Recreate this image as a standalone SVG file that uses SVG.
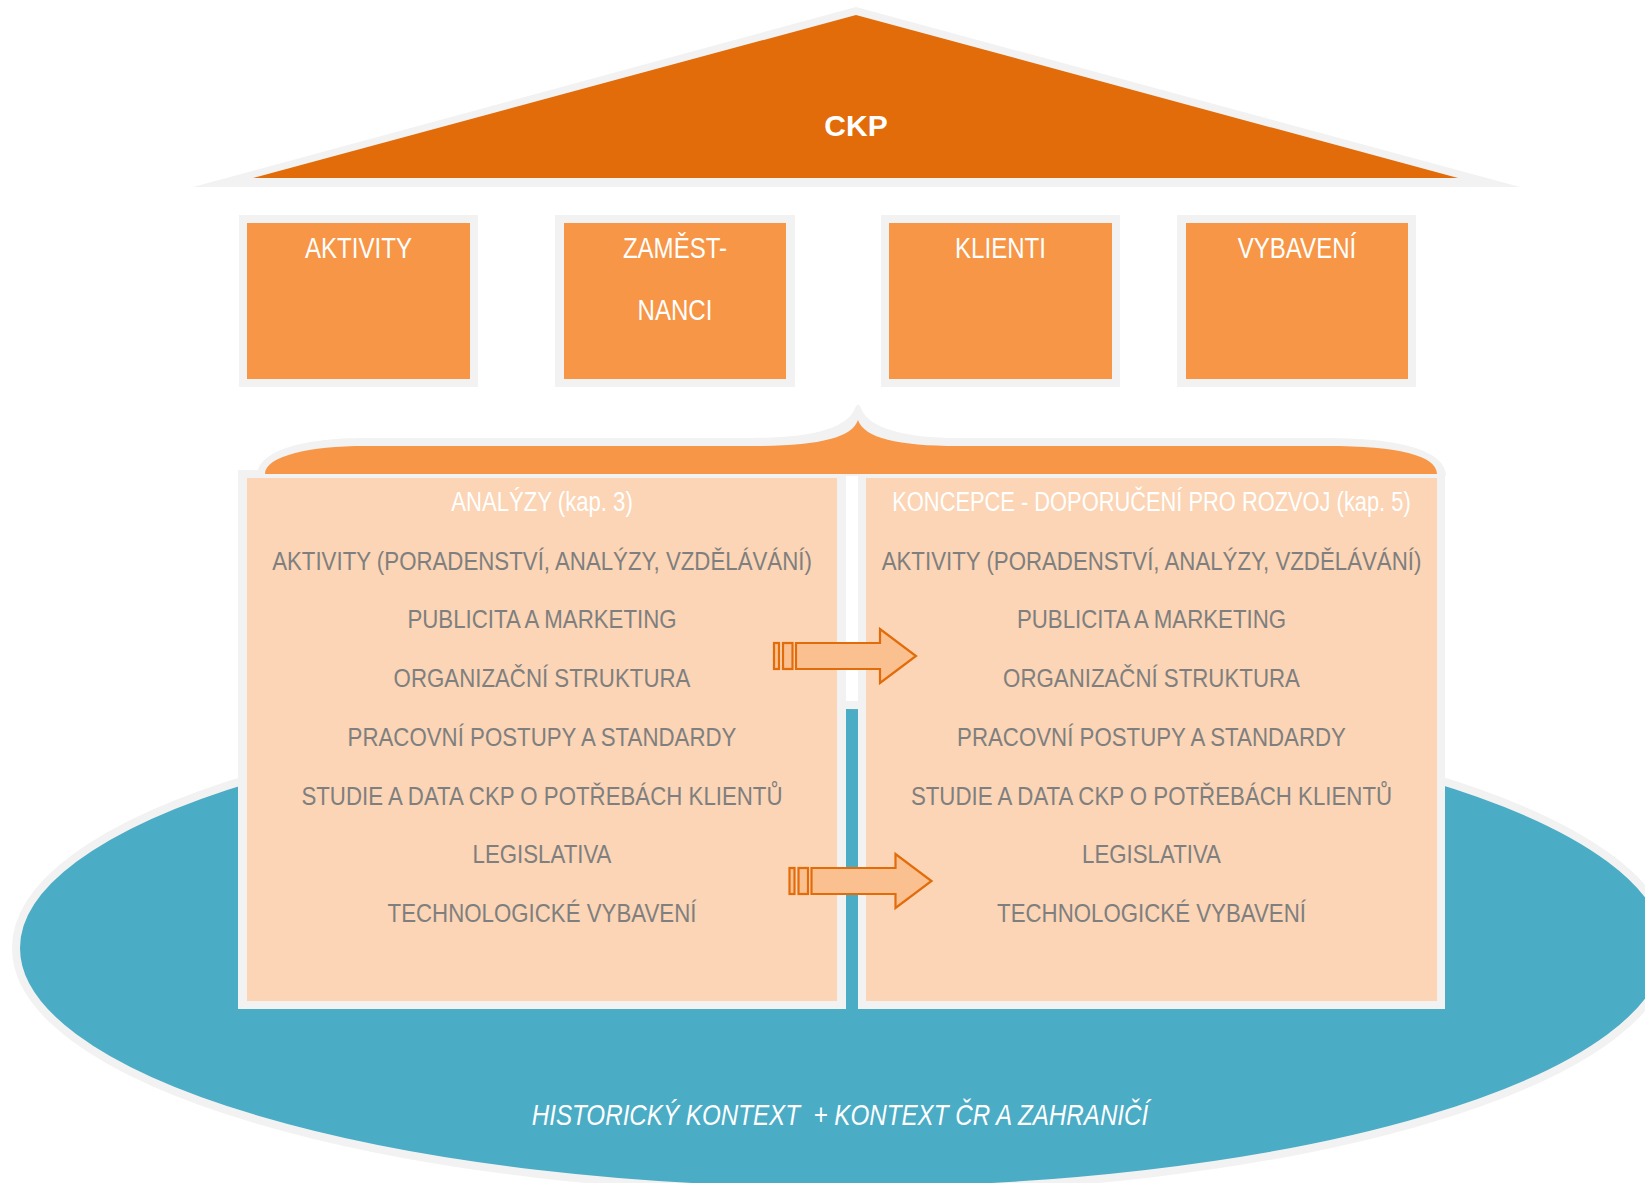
<svg xmlns="http://www.w3.org/2000/svg" width="1645" height="1183" viewBox="0 0 1645 1183">
<style>
.n{font-family:"Liberation Sans","Arial",sans-serif;}
.lbl{font-size:29px;fill:#FFFFFF;text-anchor:middle;}
.ttl{font-size:27px;fill:#FFFFFF;text-anchor:middle;}
.itm{font-size:26.5px;fill:#7F7F7F;text-anchor:middle;}
.frame{fill:#F2F2F2;}
.box{fill:#F79646;}
.pan{fill:#FBD5B5;}
.arr{fill:#FAC08F;stroke:#E36C0A;stroke-width:2.2;}
</style>
<rect width="1645" height="1183" fill="#FFFFFF"/>
<g id="context">
<ellipse cx="842" cy="948" rx="826" ry="243" fill="#4BACC6" stroke="#F2F2F2" stroke-width="8"/>
<text class="n" x="840" y="1125" font-size="29.5" font-style="italic" fill="#FFFFFF" text-anchor="middle" xml:space="preserve" transform="translate(840,0) scale(0.82,1) translate(-840,0)">HISTORICKÝ KONTEXT  + KONTEXT ČR A ZAHRANIČÍ</text>
</g>
<g id="analyzy">
<rect class="frame" x="238" y="470" width="608" height="539"/>
<rect class="pan" x="247" y="478" width="590" height="523"/>
</g>
<g id="koncepce">
<rect class="frame" x="858" y="470" width="587" height="539"/>
<rect class="pan" x="866" y="478" width="571" height="523"/>
</g>
<g id="brace">
<path class="frame" d="M257,476 C257,450 305,438 365,438 L752,438 C812,438 848,428 855,408 Q858,401 861,408 C868,428 904,438 958,438 L1326,438 C1405,438 1446,452 1446,476 Z"/>
<path class="box" d="M265,474 C265,456 310,446 365,446 L752,446 C818,446 852,438 858,420 C864,438 898,446 958,446 L1326,446 C1400,446 1437,456 1437,474 Z"/>
</g>
<g id="ckp">
<polygon class="frame" points="193,187 856,7 1520,187"/>
<polygon fill="#E36C0A" points="253,178 856,15 1458,178"/>
<text x="856" y="136" font-family="Liberation Sans, Arial, sans-serif" font-weight="bold" font-size="30" fill="#FFFFFF" text-anchor="middle">CKP</text>
</g>
<g id="aktivity">
<rect class="frame" x="239" y="215" width="239" height="172"/>
<rect class="box" x="247" y="223" width="223" height="156"/>
<text class="n lbl" x="358.5" y="258" transform="translate(358.5,0) scale(0.83,1) translate(-358.5,0)">AKTIVITY</text>
</g>
<g id="zamestnanci">
<rect class="frame" x="555" y="215" width="240" height="172"/>
<rect class="box" x="564" y="223" width="222" height="156"/>
<g transform="translate(675,0) scale(0.83,1) translate(-675,0)">
<text class="n lbl" x="675" y="258">ZAMĚST-</text>
<text class="n lbl" x="675" y="320">NANCI</text>
</g>
</g>
<g id="klienti">
<rect class="frame" x="881" y="215" width="239" height="172"/>
<rect class="box" x="889" y="223" width="223" height="156"/>
<text class="n lbl" x="1000.5" y="258" transform="translate(1000.5,0) scale(0.83,1) translate(-1000.5,0)">KLIENTI</text>
</g>
<g id="vybaveni">
<rect class="frame" x="1177" y="215" width="239" height="172"/>
<rect class="box" x="1186" y="223" width="222" height="156"/>
<text class="n lbl" x="1297" y="258" transform="translate(1297,0) scale(0.83,1) translate(-1297,0)">VYBAVENÍ</text>
</g>
<g id="analyzy-text" class="n">
<text class="ttl" x="542" y="511" transform="translate(542,0) scale(0.82,1) translate(-542,0)">ANALÝZY (kap. 3)</text>
<g transform="translate(542,0) scale(0.84,1) translate(-542,0)">
<text class="itm" x="542" y="570">AKTIVITY (PORADENSTVÍ, ANALÝZY, VZDĚLÁVÁNÍ)</text>
<text class="itm" x="542" y="628">PUBLICITA A MARKETING</text>
<text class="itm" x="542" y="687">ORGANIZAČNÍ STRUKTURA</text>
<text class="itm" x="542" y="746">PRACOVNÍ POSTUPY A STANDARDY</text>
<text class="itm" x="542" y="805">STUDIE A DATA CKP O POTŘEBÁCH KLIENTŮ</text>
<text class="itm" x="542" y="863">LEGISLATIVA</text>
<text class="itm" x="542" y="922">TECHNOLOGICKÉ VYBAVENÍ</text>
</g>
</g>
<g id="koncepce-text" class="n">
<text class="ttl" x="1151.5" y="511" transform="translate(1151.5,0) scale(0.81,1) translate(-1151.5,0)">KONCEPCE - DOPORUČENÍ PRO ROZVOJ (kap. 5)</text>
<g transform="translate(1151.5,0) scale(0.84,1) translate(-1151.5,0)">
<text class="itm" x="1151.5" y="570">AKTIVITY (PORADENSTVÍ, ANALÝZY, VZDĚLÁVÁNÍ)</text>
<text class="itm" x="1151.5" y="628">PUBLICITA A MARKETING</text>
<text class="itm" x="1151.5" y="687">ORGANIZAČNÍ STRUKTURA</text>
<text class="itm" x="1151.5" y="746">PRACOVNÍ POSTUPY A STANDARDY</text>
<text class="itm" x="1151.5" y="805">STUDIE A DATA CKP O POTŘEBÁCH KLIENTŮ</text>
<text class="itm" x="1151.5" y="863">LEGISLATIVA</text>
<text class="itm" x="1151.5" y="922">TECHNOLOGICKÉ VYBAVENÍ</text>
</g>
</g>
<g id="connectors">
<g id="arrow1">
<rect class="arr" x="774" y="643" width="5" height="26"/>
<rect class="arr" x="783" y="643" width="9.5" height="26"/>
<polygon class="arr" points="796,643 880,643 880,629 916,656 880,683 880,669 796,669"/>
</g>
<g id="arrow2" transform="translate(15.5,225)">
<rect class="arr" x="774" y="643" width="5" height="26"/>
<rect class="arr" x="783" y="643" width="9.5" height="26"/>
<polygon class="arr" points="796,643 880,643 880,629 916,656 880,683 880,669 796,669"/>
</g>
</g>
</svg>
